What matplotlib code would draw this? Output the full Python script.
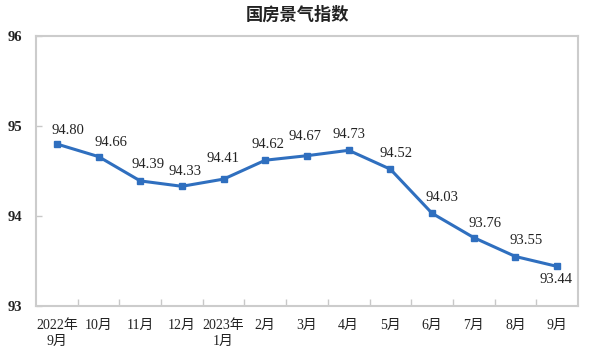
import matplotlib
matplotlib.use("Agg")
import matplotlib.pyplot as plt

months = ["2022年\n9月", "10月", "11月", "12月", "2023年\n1月", "2月", "3月", "4月",
          "5月", "6月", "7月", "8月", "9月"]
values = [94.80, 94.66, 94.39, 94.33, 94.41, 94.62, 94.67, 94.73, 94.52, 94.03, 93.76, 93.55, 93.44]
yticks = [93, 94, 95, 96]
# label offsets in points (dx, dy)
offsets = [(7.9, 9.4), (8.6, 10.1), (5.8, 11.5), (2.2, 10.8), (-0.7, 15.1), (2.2, 11.5),
           (-1.4, 13.7), (0, 11.5), (4.3, 11.5), (7.2, 11.5), (7.9, 10.1), (7.9, 11.5),
           (-0.7, -9.4)]

fam = ["Liberation Serif", "Noto Sans CJK SC"]
fig = plt.figure(figsize=(6.0, 3.55), dpi=100)
ax = fig.add_axes([0.06, 0.138, 0.9033, 0.7606])

x = list(range(len(values)))
ax.plot(x, values, color="#2f6fbf", linewidth=2.2, marker="s", markersize=4.5, zorder=3)
for xi, v, (dx, dy) in zip(x, values, offsets):
    ax.annotate(f"{v:.2f}", (xi, v), xytext=(dx, dy), textcoords="offset points",
                ha="center", va="center", fontsize=10.5, family=fam, color="#222222")

ax.set_xlim(-0.5, len(values) - 0.5)
ax.set_ylim(93, 96)
ax.set_yticks(yticks)
ax.set_yticklabels([str(t) for t in yticks], family=fam, fontsize=10.5, fontweight="bold")
ax.set_xticks(x)
ax.set_xticklabels(months, family=fam, fontsize=10, linespacing=1.3)
ax.set_xticks([i + 0.5 for i in x[:-1]], minor=True)
ax.tick_params(axis="x", which="major", length=0, pad=9, colors="#222222")
ax.tick_params(axis="x", which="minor", direction="in", length=5, color="#c8c8c8", width=1)
ax.tick_params(axis="y", direction="in", length=4, width=1, pad=10, colors="#222222")
ax.tick_params(axis="y", color="#c8c8c8")
for s in ax.spines.values():
    s.set_color("#cccccc")
    s.set_linewidth(1.5)

fig.suptitle("国房景气指数", x=0.495, y=0.985, fontsize=12.4, fontweight="bold",
             family=["Noto Sans CJK SC", "DejaVu Sans"], color="#222222")

fig.savefig("out.png", dpi=100, facecolor="white")
